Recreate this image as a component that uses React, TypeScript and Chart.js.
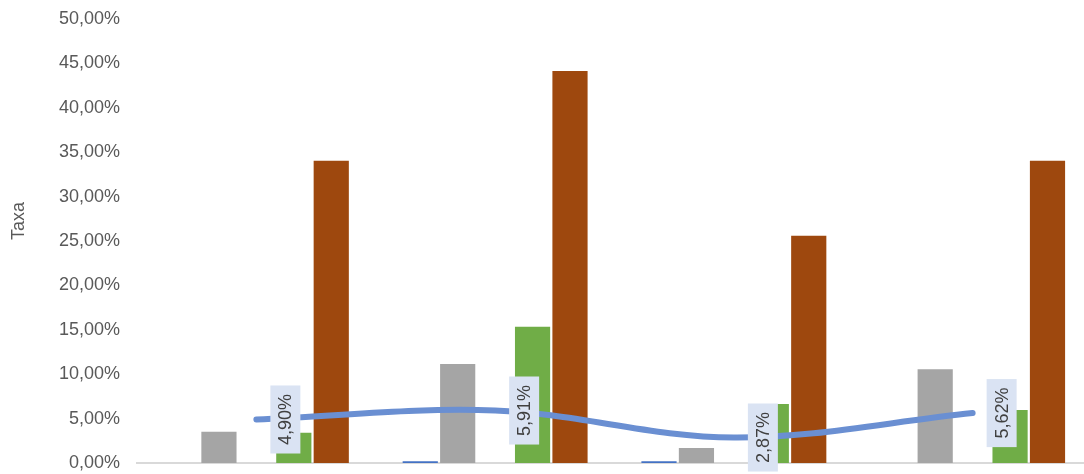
import React, { useEffect, useRef } from 'react';
import { Chart, registerables } from 'chart.js';

Chart.register(...registerables);

// ---- Data ----
const categories = ['Categoria 1', 'Categoria 2', 'Categoria 3', 'Categoria 4'];
const serieAzul = [0, 0.2, 0.2, 0];
const serieCinza = [3.52, 11.15, 1.69, 10.55];
const serieVazia = [null, null, null, null];
const serieVerde = [3.41, 15.35, 6.64, 5.97];
const serieMarrom = [34.04, 44.14, 25.6, 34.04];
const taxaLinha = [4.9, 5.91, 2.87, 5.62];
const taxaRotulos = ['4,90%', '5,91%', '2,87%', '5,62%'];
const yTituloTexto = 'Taxa';

const FONT = '"Liberation Sans", Arial, sans-serif';

const fmtPct = (v: number) => v.toFixed(2).replace('.', ',') + '%';

const lineLabelPlugin = {
  id: 'lineLabels',
  afterDatasetsDraw(chart: any) {
    const idx = chart.data.datasets.findIndex((d: any) => d.type === 'line');
    if (idx < 0) return;
    const meta = chart.getDatasetMeta(idx);
    const ctx = chart.ctx;
    ctx.save();
    ctx.font = `18px ${FONT}`;
    meta.data.forEach((pt: any, i: number) => {
      const text = taxaRotulos[i];
      const w = ctx.measureText(text).width;
      const cx = pt.x + 29;
      const cy = pt.y;
      const bw = 30;
      const bh = w + 17;
      ctx.fillStyle = '#DAE3F3';
      ctx.fillRect(cx - bw / 2, cy - bh / 2, bw, bh);
      ctx.save();
      ctx.translate(cx, cy);
      ctx.rotate(-Math.PI / 2);
      ctx.fillStyle = '#404040';
      ctx.textAlign = 'center';
      ctx.textBaseline = 'middle';
      ctx.fillText(text, 0, 1);
      ctx.restore();
    });
    ctx.restore();
  },
};

const yTitlePlugin = {
  id: 'yTitle',
  afterDraw(chart: any) {
    const ctx = chart.ctx;
    ctx.save();
    ctx.translate(19, 221);
    ctx.rotate(-Math.PI / 2);
    ctx.font = `18px ${FONT}`;
    ctx.fillStyle = '#595959';
    ctx.textAlign = 'center';
    ctx.textBaseline = 'middle';
    ctx.fillText(yTituloTexto, 0, 0);
    ctx.restore();
  },
};

export default function App() {
  const canvasRef = useRef<HTMLCanvasElement | null>(null);

  useEffect(() => {
    if (!canvasRef.current) return;
    const barCommon = { type: 'bar' as const, order: 1, borderWidth: 0 };
    const chart = new Chart(canvasRef.current, {
      type: 'bar',
      data: {
        labels: categories,
        datasets: [
          { ...barCommon, label: 'Série 1', data: serieAzul, backgroundColor: '#4472C4' },
          { ...barCommon, label: 'Série 2', data: serieCinza, backgroundColor: '#A5A5A5' },
          { ...barCommon, label: 'Série 3', data: serieVazia as any, backgroundColor: 'rgba(0,0,0,0)' },
          { ...barCommon, label: 'Série 4', data: serieVerde, backgroundColor: '#70AD47' },
          { ...barCommon, label: 'Série 5', data: serieMarrom, backgroundColor: '#9E480E' },
          {
            type: 'line' as const,
            label: 'Taxa',
            data: taxaLinha,
            order: 0,
            borderColor: '#6A8FD2',
            borderWidth: 6,
            borderCapStyle: 'round',
            tension: 0.35,
            pointRadius: 0,
            fill: false,
          } as any,
        ],
      },
      options: {
        animation: false,
        responsive: true,
        maintainAspectRatio: false,
        datasets: {
          bar: { categoryPercentage: 0.784, barPercentage: 0.94 },
        },
        layout: { padding: { top: 19, right: 8, left: 0, bottom: 0 } },
        plugins: {
          legend: { display: false },
          tooltip: { enabled: false },
          title: { display: false },
        },
        scales: {
          x: {
            grid: { display: false },
            border: { display: true, color: '#D9D9D9', width: 2 },
            ticks: { display: false },
            afterFit: (scale: any) => {
              scale.height = 11;
              scale.paddingTop = 0;
              scale.paddingBottom = 0;
            },
          },
          y: {
            min: 0,
            max: 50,
            grid: { display: false, drawTicks: false },
            border: { display: false },
            ticks: {
              stepSize: 5,
              padding: 17,
              color: '#595959',
              font: { family: FONT, size: 18 },
              callback: (v: any) => fmtPct(Number(v)),
            },
            afterFit: (scale: any) => {
              scale.width = 137;
              scale.paddingTop = 0;
              scale.paddingBottom = 0;
            },
          },
        },
      },
      plugins: [lineLabelPlugin, yTitlePlugin],
    });
    return () => chart.destroy();
  }, []);

  return (
    <div
      style={{
        position: 'fixed',
        left: 0,
        top: 0,
        width: 1084,
        height: 474,
        overflow: 'hidden',
        background: '#fff',
      }}
    >
      <div style={{ position: 'relative', width: 1100, height: 474 }}>
        <canvas ref={canvasRef} />
      </div>
    </div>
  );
}
